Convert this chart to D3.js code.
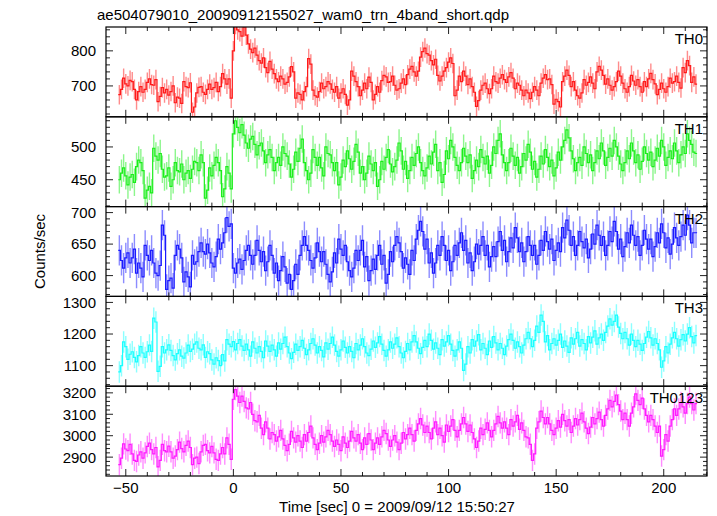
<!DOCTYPE html>
<html><head><meta charset="utf-8">
<script src="https://cdn.jsdelivr.net/npm/d3@7"></script>
<style>
body{margin:0;background:#fff;}
text{font-family:"Liberation Sans",Arial,Helvetica,sans-serif;fill:#000;}
</style></head>
<body><svg id="c" width="717" height="516"></svg>
<script>
const titleText = "ae504079010_20090912155027_wam0_trn_4band_short.qdp";
const xLabel = "Time [sec] 0 = 2009/09/12 15:50:27";
const yLabel = "Counts/sec";
const binStart = -53, binWidth = 1;
const xTicksMajor = [-50, 0, 50, 100, 150, 200];
const panelNames = ["TH0", "TH1", "TH2", "TH3", "TH0123"];
const panelColors = ["#ff1a1a", "#1aee1a", "#1a1aff", "#1affff", "#ff1aff"];
const panelErrors = [28, 21, 24, 34, 50];
const panelDomains = [[612, 868], [409, 546], [567, 709.5], [1035, 1319], [2812, 3231]];
const panelTickMajor = [[700, 800], [450, 500], [600, 650, 700], [1100, 1200, 1300], [2900, 3000, 3100, 3200]];
const panelTickMinorStep = [20, 10, 10, 20, 20];

const th0 = [675,690,722,706,700,716,712,690,660,684,698,682,690,710,720,704,702,718,655,670,695,680,690,674,684,700,652,668,665,650,712,698,695,709,625,640,680,696,698,682,676,690,705,690,695,710,684,698,735,720,705,720,665,800,
875,860,855,842,868,845,820,805,795,808,788,772,765,780,752,738,770,748,735,720,712,728,720,705,710,726,755,740,665,680,676,660,684,698,778,762,688,672,668,684,708,692,698,712,706,690,682,698,665,680,692,676,645,660,742,728,712,698,672,688,708,692,
725,710,660,676,698,682,715,730,726,710,712,728,702,688,692,708,720,704,732,748,756,740,728,742,782,798,808,792,788,772,760,776,730,714,728,742,752,768,780,764,672,688,728,712,742,728,704,720,698,682,642,658,688,702,708,692,678,692,
728,712,708,722,732,718,710,726,738,722,692,708,702,688,672,688,680,664,682,698,688,672,708,722,732,718,720,704,648,662,655,640,712,728,745,730,698,712,688,672,665,680,718,702,710,726,708,692,740,756,745,730,
705,720,702,688,698,712,742,728,708,692,682,698,730,714,702,718,698,682,712,698,720,736,718,706,675,690,708,692,682,698,722,708,712,728,710,694,752,738,772,758,710,726,705];
const th1 = [450,460,468,456,442,454,458,446,470,480,476,464,422,434,440,430,498,486,480,490,466,454,456,468,440,450,476,464,462,474,450,460,464,452,466,478,476,464,488,476,422,434,468,456,472,484,476,464,424,436,470,460,436,520,
540,530,522,534,518,506,498,512,516,504,488,502,506,494,476,488,496,484,464,476,484,472,500,490,486,474,454,466,492,478,498,512,476,464,450,460,496,484,472,484,468,456,500,490,488,476,464,476,442,454,480,470,494,482,466,478,504,492,460,470,450,460,
486,474,464,476,440,450,478,466,484,496,474,462,470,480,506,494,466,478,452,464,484,472,490,500,476,464,456,468,486,474,492,504,464,476,446,458,494,482,510,500,484,472,464,476,498,486,476,488,452,464,480,470,496,484,474,486,460,472,
500,490,510,520,488,476,464,476,498,486,472,484,460,470,490,480,504,492,466,478,454,466,486,474,496,484,470,480,456,468,492,480,500,510,526,514,494,482,464,476,484,472,500,490,476,488,464,476,494,482,506,494,
472,484,498,486,510,500,486,474,464,476,494,482,506,494,476,488,466,478,500,490,480,492,470,480,498,486,510,500,472,484,494,482,506,494,476,488,500,490,520,510,504,492,490];
const th2 = [640,624,612,628,636,620,628,642,604,620,612,598,648,632,624,640,620,604,600,616,680,664,578,592,596,580,632,648,642,628,590,606,598,582,632,618,622,638,652,638,634,650,636,620,614,630,658,642,652,668,692,678,682,612,
604,620,626,610,624,640,648,632,618,632,656,640,622,638,608,622,648,632,604,620,592,608,630,614,588,602,578,592,618,602,632,648,662,648,640,624,612,628,652,638,622,638,618,602,590,606,636,620,658,642,632,648,622,608,598,612,640,624,640,656,614,630,
592,608,626,610,632,648,618,632,588,602,638,622,648,662,652,638,612,628,618,602,640,624,658,672,686,670,642,658,620,636,604,620,648,632,662,648,624,640,608,622,648,632,652,668,640,656,620,636,608,622,650,634,648,662,632,648,614,630,
646,630,654,670,640,656,622,638,660,644,676,660,638,652,622,638,662,648,632,648,618,632,656,640,670,654,642,658,624,640,652,638,676,660,688,672,648,662,632,648,670,654,644,658,628,642,666,650,680,664,648,662,
632,648,670,654,686,670,642,658,630,646,668,652,680,664,648,662,632,648,672,658,642,658,630,646,668,652,682,668,644,660,634,650,676,660,648,662,680,664,696,680,652,668,668];
const th3 = [1080,1100,1175,1160,1120,1136,1144,1126,1112,1132,1160,1140,1126,1144,1165,1145,1250,1238,1082,1098,1160,1140,1150,1166,1148,1132,1118,1138,1150,1130,1124,1140,1165,1145,1152,1168,1175,1155,1150,1166,1126,1144,1138,1118,1105,1125,1116,1100,1135,1115,1182,1168,1160,1176,
1150,1170,1182,1162,1148,1168,1150,1130,1175,1155,1140,1160,1145,1125,1178,1162,1145,1165,1150,1130,1172,1152,1170,1190,1160,1140,1122,1142,1168,1148,1160,1180,1155,1135,1150,1170,1185,1165,1140,1160,1148,1128,1172,1152,1170,1190,1165,1145,1130,1150,1178,1158,1140,1160,1145,1125,1170,1150,1165,1185,1160,1140,
1132,1152,1178,1158,1172,1192,1168,1148,1130,1150,1175,1155,1168,1188,1160,1140,1125,1145,1170,1150,1175,1195,1175,1155,1138,1158,1180,1160,1200,1180,1152,1172,1155,1135,1182,1162,1175,1195,1168,1148,1130,1150,1175,1155,1085,1105,1160,1140,1182,1162,1178,1198,1150,1170,1155,1135,1178,1158,
1192,1172,1150,1170,1155,1135,1162,1182,1200,1180,1155,1175,1160,1140,1165,1185,1205,1185,1160,1180,1225,1205,1260,1240,1175,1195,1150,1170,1185,1165,1180,1200,1158,1178,1162,1142,1188,1168,1185,1205,1162,1182,1170,1150,1192,1172,1190,1210,1168,1188,1200,1180,
1205,1225,1248,1228,1240,1260,1222,1202,1185,1205,1185,1165,1200,1180,1160,1180,1168,1148,1170,1190,1208,1188,1165,1185,1170,1150,1095,1115,1160,1140,1168,1188,1205,1185,1162,1182,1198,1178,1200,1220,1192,1172,1195];
const th0123 = [2865,2895,2962,2938,2930,2960,2915,2885,2880,2910,2925,2895,2920,2950,2965,2935,2915,2945,2855,2885,2960,2930,2925,2951,2925,2895,2905,2935,2970,2940,2925,2955,2975,2945,2865,2895,2900,2870,2925,2955,2960,2930,2920,2950,2920,2890,2885,2915,2945,2915,2990,2960,2890,3170,
3215,3185,3155,3185,3160,3130,3125,3155,3100,3070,3065,3095,3035,3005,3065,3035,2985,3015,3005,2975,2995,3025,2985,2955,2930,2960,3020,2990,2970,3000,2975,2945,3005,2975,3015,3045,2990,2960,2935,2965,3000,2970,2995,3025,3005,2975,2950,2980,2960,2930,2995,2965,2945,2975,3020,2990,2975,3005,2965,2935,2990,2960,
3010,2980,2935,2965,2990,2960,2995,3025,3010,2980,2950,2980,3000,2970,2935,2965,3015,2985,3005,3035,3005,2975,3025,3055,3080,3050,3015,3045,3015,2985,3035,3065,3005,3035,3000,2970,3050,3020,3045,3075,3025,2995,3025,3055,3085,3055,3020,3050,3015,2985,2945,2975,3035,3005,3030,3060,3025,2995,
3025,3055,3090,3060,3035,3065,3035,3005,3075,3045,3065,3095,3030,3060,3025,2995,2990,2960,2885,2915,3035,3065,3115,3085,3055,3085,3055,3025,3005,3035,3070,3040,3100,3070,3045,3075,3015,3045,3080,3050,3075,3105,3065,3035,3010,3040,3085,3055,3080,3110,3075,3045,
3095,3125,3165,3135,3160,3190,3145,3115,3075,3105,3075,3045,3105,3135,3195,3165,3145,3175,3125,3095,3065,3095,3075,3045,3015,3045,2905,2935,3005,2975,3045,3075,3125,3095,3125,3155,3135,3105,3150,3180,3150,3120,3150];
const panelData = [th0, th1, th2, th3, th0123];

const svg = d3.select("#c");
const L = 106, R = 707, T = 27, B = 476;
const ph = (B - T) / 5;
const x = d3.scaleLinear().domain([-59.2, 220.1]).range([L, R]);

svg.append("defs").selectAll("clipPath").data(panelNames).join("clipPath")
  .attr("id", (d, i) => "cp" + i)
  .append("rect").attr("x", L).attr("y", (d, i) => T + i * ph).attr("width", R - L).attr("height", ph);

panelNames.forEach((name, i) => {
  const top = T + i * ph, bot = top + ph;
  const y = d3.scaleLinear().domain(panelDomains[i]).range([bot, top]);
  const pts = panelData[i].map((v, k) => ({t: binStart + k * binWidth, v}));
  const e = panelErrors[i];
  const col = panelColors[i];
  const g = svg.append("g").attr("clip-path", `url(#cp${i})`);
  g.selectAll("line.err").data(pts).join("line").attr("class", "err")
    .attr("x1", d => x(d.t)).attr("x2", d => x(d.t))
    .attr("y1", d => y(d.v - e)).attr("y2", d => y(d.v + e))
    .attr("stroke", col).attr("stroke-opacity", 0.5).attr("stroke-width", 1.4);
  const stepPts = [];
  pts.forEach(d => { stepPts.push([d.t - binWidth / 2, d.v]); stepPts.push([d.t + binWidth / 2, d.v]); });
  g.append("path").datum(stepPts)
    .attr("d", d3.line().x(d => x(d[0])).y(d => y(d[1])))
    .attr("fill", "none").attr("stroke", col).attr("stroke-width", 1.2);

  const ax = svg.append("g").attr("stroke", "#222").attr("stroke-width", 1);
  const minorY = d3.range(Math.ceil(panelDomains[i][0] / panelTickMinorStep[i]) * panelTickMinorStep[i], panelDomains[i][1], panelTickMinorStep[i]);
  minorY.forEach(v => {
    const len = panelTickMajor[i].includes(v) ? 7 : 4;
    ax.append("line").attr("x1", L).attr("x2", L + len).attr("y1", y(v)).attr("y2", y(v));
    ax.append("line").attr("x1", R).attr("x2", R - len).attr("y1", y(v)).attr("y2", y(v));
  });
  svg.append("g").selectAll("text").data(panelTickMajor[i]).join("text")
    .attr("x", L - 10).attr("y", d => y(d)).attr("dy", "0.36em")
    .attr("text-anchor", "end").attr("font-size", 15).text(d => d);
  d3.range(-50, 221, 10).forEach(t => {
    const len = xTicksMajor.includes(t) ? 7 : 4;
    ax.append("line").attr("x1", x(t)).attr("x2", x(t)).attr("y1", top).attr("y2", top + len);
    ax.append("line").attr("x1", x(t)).attr("x2", x(t)).attr("y1", bot).attr("y2", bot - len);
  });
  svg.append("rect").attr("x", L).attr("y", top).attr("width", R - L).attr("height", ph)
    .attr("fill", "none").attr("stroke", "#000").attr("stroke-width", 1.2);
  svg.append("text").attr("x", R - 4).attr("y", top + 17).attr("text-anchor", "end")
    .attr("font-size", 15).text(name);
});

svg.append("g").selectAll("text").data(xTicksMajor).join("text")
  .attr("x", d => x(d)).attr("y", B + 17).attr("text-anchor", "middle").attr("font-size", 15)
  .text(d => d3.format("")(d));

svg.append("text").attr("x", 97).attr("y", 20).attr("font-size", 15).text(titleText);
svg.append("text").attr("x", 397).attr("y", 512).attr("text-anchor", "middle").attr("font-size", 15).text(xLabel);
svg.append("text").attr("transform", `translate(45,${(T + B) / 2}) rotate(-90)`)
  .attr("text-anchor", "middle").attr("font-size", 15).text(yLabel);
</script></body></html>
